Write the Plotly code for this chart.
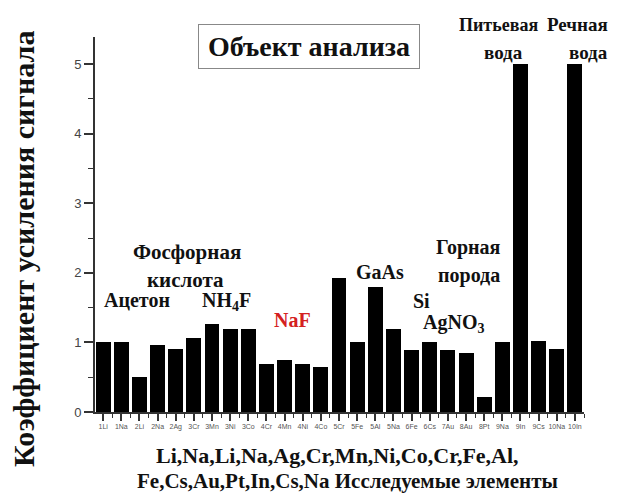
import plotly.graph_objects as go

labels = ["1Li", "1Na", "2Li", "2Na", "2Ag", "3Cr", "3Mn", "3Ni", "3Co",
          "4Cr", "4Mn", "4Ni", "4Co", "5Cr", "5Fe", "5Al", "5Na", "6Fe",
          "6Cs", "7Au", "8Au", "8Pt", "9Na", "9In", "9Cs", "10Na", "10In"]
values = [1.0, 1.0, 0.5, 0.96, 0.9, 1.06, 1.26, 1.19, 1.19,
          0.69, 0.75, 0.69, 0.65, 1.93, 1.0, 1.8, 1.19, 0.89,
          1.0, 0.89, 0.85, 0.22, 1.0, 5.0, 1.02, 0.9, 5.0]
y_ticks = [0, 1, 2, 3, 4, 5]

xpos = list(range(len(labels)))

SERIF = "Liberation Serif, Times New Roman, serif"
SANS = "Arial, Liberation Sans, sans-serif"

fig = go.Figure()
fig.add_trace(go.Bar(x=xpos, y=values, width=0.82,
                     marker=dict(color="black", line=dict(width=0))))

def ann(text, x, y, size=20, color="#111111", angle=0):
    fig.add_annotation(text="<b>" + text + "</b>", x=x, y=y, xref="paper", yref="paper",
                       showarrow=False, font=dict(family=SERIF, size=size, color=color),
                       xanchor="center", yanchor="middle", textangle=angle)

ann("Ацетон", 0.086, 0.299)
ann("Фосфорная", 0.188, 0.427, size=21)
ann("кислота", 0.186, 0.352, size=21)
ann("NH<sub>4</sub>F", 0.268, 0.296)
ann("NaF", 0.403, 0.245, color="#d42020")
ann("GaAs", 0.583, 0.373)
ann("Si", 0.667, 0.296)
ann("AgNO<sub>3</sub>", 0.733, 0.236)
ann("Горная", 0.763, 0.440)
ann("порода", 0.765, 0.365)
ann("Питьевая", 0.826, 1.032, size=18)
ann("вода", 0.836, 0.960, size=19)
ann("Речная", 0.986, 1.032, size=19)
ann("вода", 1.010, 0.960, size=19)

# axis titles
ann("Li,Na,Li,Na,Ag,Cr,Mn,Ni,Co,Cr,Fe,Al,", 0.495, -0.117, size=22)
ann("Fe,Cs,Au,Pt,In,Cs,Na Исследуемые элементы", 0.517, -0.184, size=21)
ann("Коэффициент усиления сигнала", -0.145, 0.435, size=30, angle=-90)

fig.add_annotation(text="<b>Объект анализа</b>", x=0.438, y=0.975, xref="paper", yref="paper",
                   showarrow=False, font=dict(family=SERIF, size=28, color="#111111"),
                   bordercolor="#888888", borderwidth=1, borderpad=3,
                   width=214, height=37, bgcolor="white",
                   xanchor="center", yanchor="middle")

# the page body adds an 8px margin on the left and top; the figure is sized to fill the rest
fig.update_layout(
    width=613, height=485,
    margin=dict(l=87, r=37, t=29, b=81),
    paper_bgcolor="white", plot_bgcolor="white",
    showlegend=False,
    bargap=0,
    xaxis=dict(
        range=[-0.45, 26.5], automargin=False,
        tickvals=xpos, ticktext=labels,
        tickfont=dict(family=SANS, size=7, color="#555555"),
        ticks="outside", ticklen=7, tickwidth=1.5, tickcolor="#333333",
        minor=dict(tick0=0.5, dtick=1, ticks="outside", ticklen=4, tickwidth=1.2, tickcolor="#333333"),
        showline=True, linecolor="#333333", linewidth=2,
        showgrid=False, zeroline=False,
    ),
    yaxis=dict(
        range=[0, 5.39], automargin=False,
        tickvals=y_ticks,
        tickfont=dict(family=SANS, size=13, color="#444444"),
        ticks="outside", ticklen=9, tickwidth=1.5, tickcolor="#333333",
        minor=dict(dtick=0.5, ticks="outside", ticklen=5, tickwidth=1.2, tickcolor="#333333"),
        showline=True, linecolor="#333333", linewidth=2,
        showgrid=False, zeroline=False,
    ),
)

fig.write_html("out.html")
